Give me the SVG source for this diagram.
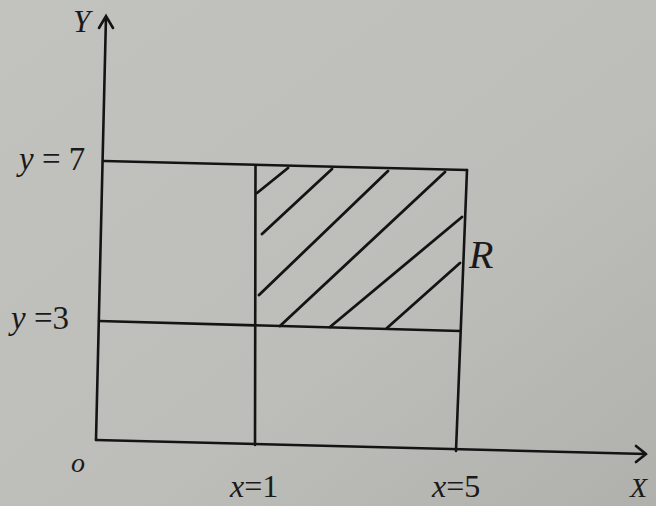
<svg xmlns="http://www.w3.org/2000/svg" width="656" height="506" viewBox="0 0 656 506">
<defs>
<style>
.ln{stroke:#141414;stroke-width:2.6;fill:none;stroke-linecap:round}
.ht{stroke:#141414;stroke-width:2.8;fill:none;stroke-linecap:round}
.t{font-family:"Liberation Serif","DejaVu Serif",serif;fill:#1a1a1a}
.i{font-style:italic}
</style>
<linearGradient id="bg" x1="0" y1="0" x2="1" y2="1">
<stop offset="0" stop-color="#c2c2be"/>
<stop offset="0.6" stop-color="#bdbdb9"/>
<stop offset="1" stop-color="#b0b0ac"/>
</linearGradient>
</defs>
<rect width="656" height="506" fill="url(#bg)"/>
<g id="connectors">
<path id="y-axis" class="ln" d="M96,440 L106,16 M99,28 L106,16 L113,28"/>
<path id="x-axis" class="ln" d="M96,440 L646,454 M636,446 L646,454 L636,462"/>
<path id="line-y7" class="ln" d="M104,161 L467,170"/>
<path id="line-y3" class="ln" d="M99,321 L460,331"/>
<path id="line-x1" class="ln" d="M255.5,166 L255,445"/>
<path id="line-x5" class="ln" d="M467,170 L456,451"/>
</g>
<g id="region-R">
<path class="ht" d="M257,193 L288,168 M262,234 L332,169 M259,295 L388,171 M280,326 L445,172 M330,327 L462,217 M387,328 L460,263"/>
<text class="t i" x="469" y="268" font-size="40">R</text>
</g>
<g id="labels">
<text class="t i" x="73" y="32" font-size="31">Y</text>
<text class="t" x="19" y="170" font-size="33"><tspan class="i">y</tspan> = 7</text>
<text class="t" x="11" y="329" font-size="33"><tspan class="i">y</tspan> =3</text>
<text class="t i" x="71" y="472" font-size="28">o</text>
<text class="t" x="230" y="497" font-size="32"><tspan class="i">x</tspan>=1</text>
<text class="t" x="432" y="497" font-size="32"><tspan class="i">x</tspan>=5</text>
<text class="t i" x="630" y="497" font-size="28">X</text>
</g>
</svg>
